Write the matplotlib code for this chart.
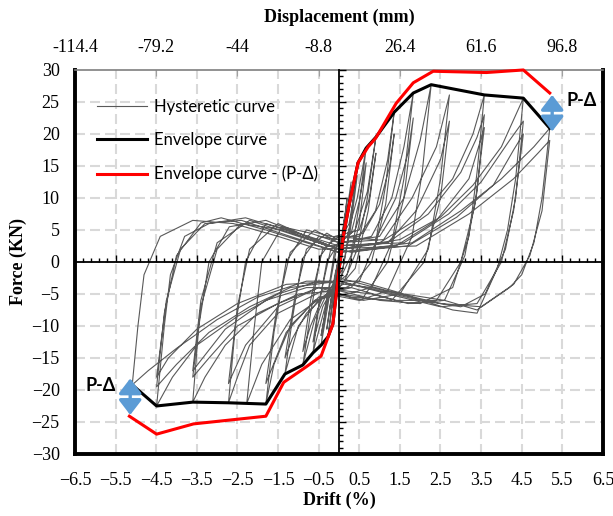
import numpy as np
import matplotlib
matplotlib.use("Agg")
import matplotlib.pyplot as plt
from matplotlib.ticker import FixedLocator, MultipleLocator
from matplotlib.patches import FancyArrowPatch

# ---- data (drift %, force kN) ----
# hysteretic response, one cycle per line
hyst_drift = [
    0.00, 0.05, 0.10, 0.06, 0.00, -0.05, -0.10, -0.06, 0.00,
    0.08, 0.15, 0.08, -0.02, -0.08, -0.15, -0.08, 0.02,
    0.10, 0.20, 0.10, -0.05, -0.15, -0.27, -0.15, 0.00,
    0.15, 0.30, 0.15, -0.10, -0.20, -0.30, -0.15, 0.05,
    0.20, 0.45, 0.30, 0.10, -0.20, -0.44, -0.30, -0.10,
    0.25, 0.45, 0.28, 0.05, -0.25, -0.44, -0.25, -0.05,
    0.20, 0.45, 0.67, 0.50, 0.30, 0.00, -0.30, -0.64, -0.50, -0.30, 0.00,
    0.30, 0.50, 0.67, 0.50, 0.20, -0.10, -0.40, -0.64, -0.45, -0.20, 0.10,
    0.40, 0.70, 0.91, 0.70, 0.45, 0.10, -0.30, -0.60, -0.89, -0.70, -0.45, -0.10,
    0.50, 0.75, 0.91, 0.72, 0.40, 0.00, -0.40, -0.70, -0.89, -0.70, -0.40, 0.00,
    0.50, 0.90, 1.20, 1.36, 1.15, 0.90, 0.50, 0.00, -0.50, -1.00, -1.33, -1.15, -0.90, -0.50, 0.00,
    0.60, 1.00, 1.25, 1.36, 1.15, 0.80, 0.30, -0.30, -0.80, -1.15, -1.33, -1.10, -0.80, -0.30, 0.10,
    0.80, 1.30, 1.60, 1.83, 1.60, 1.30, 0.80, 0.20, -0.50, -1.20, -1.60, -1.80, -1.60, -1.30, -0.80, -0.20,
    0.90, 1.40, 1.70, 1.83, 1.60, 1.20, 0.60, 0.00, -0.60, -1.30, -1.80, -1.55, -1.20, -0.60, 0.00,
    1.00, 1.60, 2.00, 2.27, 2.05, 1.80, 1.20, 0.50, -0.30, -1.20, -1.90, -2.27, -2.10, -1.90, -1.40, -0.70, 0.00,
    1.10, 1.80, 2.40, 2.72, 2.50, 2.20, 1.50, 0.60, -0.40, -1.50, -2.20, -2.50, -2.72, -2.55, -2.30, -1.80, -1.00, 0.00,
    1.20, 1.90, 2.50, 2.72, 2.50, 2.10, 1.30, 0.30, -0.50, -1.50, -2.30, -2.72, -2.50, -2.20, -1.50, -0.80, 0.00,
    1.00, 2.00, 2.80, 3.30, 3.58, 3.40, 3.20, 2.80, 2.00, 1.00, 0.00, -1.00, -2.00, -2.80, -3.30, -3.60, -3.45, -3.20, -2.70, -1.80, -0.80, 0.00,
    1.20, 2.20, 3.00, 3.40, 3.58, 3.40, 3.10, 2.60, 1.70, 0.80, -0.50, -1.50, -2.50, -3.20, -3.60, -3.40, -3.00, -2.40, -1.40, -0.50, 0.30,
    1.40, 2.40, 3.20, 3.58, 3.35, 3.00, 2.40, 1.40, 0.30, -0.80, -1.80, -2.80, -3.60, -3.40, -3.00, -2.20, -1.00, 0.00,
    1.50, 2.50, 3.30, 4.00, 4.54, 4.35, 4.15, 3.90, 3.40, 2.80, 1.80, 0.80, -0.50, -1.50, -2.50, -3.50, -4.10, -4.49, -4.30, -4.15, -3.80, -3.20, -2.30, -1.30, -0.30,
    1.60, 2.70, 3.50, 4.20, 4.54, 4.35, 4.10, 3.60, 3.00, 2.00, 1.00, 0.00, -1.20, -2.20, -3.20, -4.00, -4.49, -4.30, -4.00, -3.40, -2.90, -1.80, -0.80, 0.00,
    1.70, 2.90, 3.80, 4.30, 4.54, 4.30, 4.00, 3.40, 2.50, 1.20, 0.00, -1.30, -2.50, -3.50, -4.20, -4.49, -4.25, -3.90, -3.30, -2.40, -1.20, 0.00,
    1.80, 3.00, 4.00, 4.80, 5.19, 5.00, 4.80, 4.50, 4.20, 3.40, 2.60, 1.60, 0.50, -0.80, -2.00, -3.00, -4.00, -4.70, -5.09, -4.95, -4.80, -4.40, -3.60, -2.60, -1.50, -0.50,
    1.90, 3.20, 4.30, 4.90, 5.19, 5.00, 4.70, 4.30, 3.50, 2.50, 1.20, 0.00,
]
hyst_force = [
    0.0, 2.5, 4.0, 2.0, -0.5, -2.5, -4.2, -2.0, 0.5,
    4.5, 7.5, 3.5, -1.0, -4.5, -7.0, -3.0, 1.0,
    5.0, 10.0, 4.0, -1.5, -6.5, -11.7, -5.0, 1.5,
    6.0, 12.5, 4.5, -2.0, -6.0, -10.5, -4.0, 2.0,
    7.0, 15.5, 7.0, -1.0, -4.0, -13.0, -6.0, 2.0,
    6.0, 13.5, 5.0, -2.5, -5.0, -11.5, -4.5, 2.5,
    4.0, 10.0, 17.8, 9.0, 1.0, -3.0, -6.0, -14.2, -7.0, 0.0, 3.0,
    4.5, 9.5, 15.5, 6.0, -2.0, -3.5, -7.0, -12.5, -5.0, 2.0, 3.5,
    5.0, 11.0, 19.5, 10.0, 2.0, -3.5, -5.0, -9.0, -16.1, -8.0, 1.0, 4.0,
    5.0, 10.0, 17.0, 8.0, -1.0, -4.0, -5.5, -10.0, -14.0, -6.0, 2.0, 4.0,
    4.0, 8.0, 16.0, 23.4, 12.0, 3.0, -3.0, -4.5, -6.0, -10.0, -17.5, -9.0, 0.5, 4.0, 3.5,
    4.5, 9.0, 15.0, 20.0, 9.0, 0.0, -4.0, -5.0, -8.0, -12.0, -15.0, -6.0, 2.0, 4.5, 3.0,
    4.0, 10.0, 18.0, 26.4, 13.0, 3.0, -4.0, -5.0, -5.5, -10.0, -16.0, -22.2, -11.0, 0.0, 5.0, 4.0,
    3.5, 10.0, 17.0, 22.5, 10.0, 0.0, -5.5, -5.0, -6.0, -11.0, -19.0, -8.0, 1.5, 5.0, 3.0,
    4.0, 10.0, 19.0, 27.7, 14.0, 4.0, -4.5, -6.0, -5.0, -9.0, -16.0, -22.1, -11.0, 0.0, 5.5, 4.5, 3.0,
    3.5, 10.0, 18.0, 26.1, 13.0, 2.0, -5.0, -6.0, -4.5, -8.0, -13.0, -18.0, -22.0, -10.0, 0.0, 6.0, 4.5, 2.5,
    3.0, 8.0, 16.0, 22.0, 10.0, 0.0, -6.0, -5.5, -4.0, -7.0, -13.0, -19.0, -7.0, 2.0, 6.0, 4.0, 2.0,
    3.0, 7.0, 13.0, 20.0, 26.1, 14.0, 4.0, -4.0, -6.5, -6.0, -4.5, -5.0, -8.0, -13.0, -18.0, -21.9, -10.0, 0.0, 5.5, 6.5, 4.0, 2.0,
    3.0, 7.5, 14.0, 19.5, 23.0, 11.0, 1.0, -6.0, -6.5, -5.0, -4.0, -6.5, -10.0, -15.0, -18.0, -7.0, 2.0, 6.0, 5.0, 3.0, 1.5,
    2.5, 6.5, 13.0, 21.0, 9.0, 0.0, -6.0, -6.0, -4.0, -4.0, -6.0, -10.5, -17.0, -6.0, 3.0, 6.5, 4.0, 2.0,
    3.5, 7.0, 12.0, 18.0, 25.6, 13.0, 5.0, -1.0, -8.0, -7.5, -5.5, -4.0, -3.0, -5.0, -8.5, -13.0, -18.0, -22.5, -10.0, -2.0, 4.0, 6.0, 6.9, 5.0, 2.5,
    3.0, 7.5, 12.5, 19.0, 22.0, 10.0, 2.0, -5.0, -7.0, -6.0, -4.5, -3.0, -4.0, -7.0, -11.0, -16.0, -19.5, -8.0, 1.0, 6.1, 6.9, 5.0, 3.0, 1.5,
    2.5, 7.0, 12.0, 17.5, 20.0, 8.0, 0.0, -6.5, -7.0, -5.0, -3.0, -3.5, -6.5, -10.5, -15.0, -18.0, -6.0, 2.0, 6.0, 6.5, 4.0, 1.5,
    3.0, 8.0, 13.0, 18.0, 20.9, 10.0, 3.0, -2.0, -4.0, -7.5, -6.0, -5.0, -3.0, -3.0, -5.5, -9.0, -13.5, -17.0, -19.2, -10.0, -2.0, 4.0, 6.5, 6.0, 4.0, 2.0,
    2.5, 7.5, 13.0, 17.0, 19.0, 8.0, 1.0, -3.5, -7.0, -6.5, -4.5, -2.5,
]

# envelope curves
env_drift = [-5.09, -4.49, -3.60, -2.72, -1.80, -1.33, -0.89, -0.64, -0.44, -0.27, -0.15, 0.00,
             0.12, 0.25, 0.47, 0.67, 0.91, 1.36, 1.83, 2.27, 3.58, 4.54, 5.19]
env_force = [-19.2, -22.5, -21.9, -22.0, -22.2, -17.5, -16.1, -14.2, -13.0, -11.7, -9.7, -1.3,
             4.5, 8.9, 15.5, 17.8, 19.5, 23.4, 26.4, 27.7, 26.1, 25.6, 20.9]

pd_drift = [-5.16, -4.49, -3.58, -1.80, -1.36, -0.81, -0.44, -0.15, 0.00,
            0.12, 0.25, 0.47, 0.72, 0.91, 1.41, 1.83, 2.32, 3.63, 4.54, 5.19]
pd_force = [-24.1, -26.9, -25.3, -24.1, -18.8, -16.4, -14.7, -9.7, -1.3,
            4.5, 8.9, 15.5, 18.0, 19.4, 24.8, 28.0, 29.8, 29.6, 30.0, 26.4]

x_ticks = [-6.5, -5.5, -4.5, -3.5, -2.5, -1.5, -0.5, 0.5, 1.5, 2.5, 3.5, 4.5, 5.5, 6.5]
mm_ticks = [-114.4, -79.2, -44, -8.8, 26.4, 61.6, 96.8]
mm_labels = ["-114.4", "-79.2", "-44", "-8.8", "26.4", "61.6", "96.8"]
mm_per_drift = 17.6

serif = "Liberation Serif"
sans = "Lato"

fig = plt.figure(figsize=(6.13, 5.16), dpi=100)
ax = fig.add_axes([0.1223, 0.1202, 0.8613, 0.7442])
ax.set_xlim(-6.5, 6.5)
ax.set_ylim(-30, 30)

# dashed grid
grid_kw = dict(color="#d9d9d9", lw=1.5, ls=(0, (4.8, 2.4)), zorder=0)
for x in x_ticks[1:-1]:
    ax.axvline(x, **grid_kw)
for y in range(-25, 30, 5):
    ax.axhline(y, **grid_kw)

ax.plot(hyst_drift, hyst_force, color="#595959", lw=0.8, label="Hysteretic curve", zorder=2)
ax.plot(env_drift, env_force, color="black", lw=2.2, label="Envelope curve", zorder=3)
ax.plot(pd_drift, pd_force, color="#ff0000", lw=2.2, label="Envelope curve - (P-\u0394)",
        zorder=4, clip_on=False)

# frame
for s in ["left", "bottom", "right"]:
    ax.spines[s].set_linewidth(2.8)
    ax.spines[s].set_color("black")
ax.spines["top"].set_linewidth(1.2)
ax.spines["top"].set_color("#7f7f7f")

ax.set_xticks(x_ticks)
ax.set_yticks(range(-30, 31, 5))
ax.tick_params(length=0, labelsize=13)
ax.tick_params(axis="x", pad=13)
ax.tick_params(axis="y", pad=11)
for lab in ax.get_xticklabels() + ax.get_yticklabels():
    lab.set_fontfamily(serif)
ax.set_xlabel("Drift (%)", fontsize=13, fontweight="bold", family=serif, labelpad=2)
ax.set_ylabel("Force (KN)", fontsize=13, fontweight="bold", family=serif, labelpad=3)

# centre axes with ticks
axc = fig.add_axes(ax.get_position(), frameon=True)
axc.patch.set_alpha(0)
axc.set_xlim(-6.5, 6.5)
axc.set_ylim(-30, 30)
axc.spines["left"].set_position(("data", 0))
axc.spines["bottom"].set_position(("data", 0))
axc.spines["top"].set_visible(False)
axc.spines["right"].set_visible(False)
for s in ["left", "bottom"]:
    axc.spines[s].set_linewidth(1.3)
axc.xaxis.set_major_locator(FixedLocator(x_ticks))
axc.xaxis.set_minor_locator(FixedLocator(np.arange(-6.5, 6.51, 0.2)))
axc.yaxis.set_major_locator(MultipleLocator(5))
axc.yaxis.set_minor_locator(MultipleLocator(1))
axc.tick_params(which="both", direction="in", labelbottom=False, labelleft=False, width=1)
axc.tick_params(which="major", length=5)
axc.tick_params(which="minor", length=3)

# top displacement axis
sec = ax.secondary_xaxis("top", functions=(lambda d: d * mm_per_drift, lambda m: m / mm_per_drift))
sec.set_xticks(mm_ticks)
sec.set_xticklabels(mm_labels)
sec.tick_params(direction="in", length=4, color="#a0a0a0", labelsize=13, pad=10)
for lab in sec.get_xticklabels():
    lab.set_fontfamily(serif)
sec.spines["top"].set_visible(False)
sec.set_xlabel("Displacement (mm)", fontsize=13, fontweight="bold", family=serif, labelpad=12)

# legend
leg = ax.legend(loc="upper left", bbox_to_anchor=(0.014, 0.964), frameon=False,
                prop={"family": sans, "size": 12}, handlelength=3.0, labelspacing=1.05,
                handletextpad=0.4)

# P-Delta arrows
arrow_kw = dict(arrowstyle="<|-|>,head_length=0.6,head_width=0.46", mutation_scale=15,
                color="#5b9bd5", lw=2.4, zorder=6, shrinkA=0, shrinkB=0)
ax.add_patch(FancyArrowPatch((5.25, 20.4), (5.25, 26.1), **arrow_kw))
ax.add_patch(FancyArrowPatch((-5.14, -23.9), (-5.14, -18.2), **arrow_kw))
ax.text(5.6, 25.2, "P-\u0394", fontsize=13, fontweight="bold", family=sans, va="center", ha="left")
ax.text(-5.5, -19.3, "P-\u0394", fontsize=13, fontweight="bold", family=sans, va="center", ha="right")

fig.savefig("out.png", dpi=100)
